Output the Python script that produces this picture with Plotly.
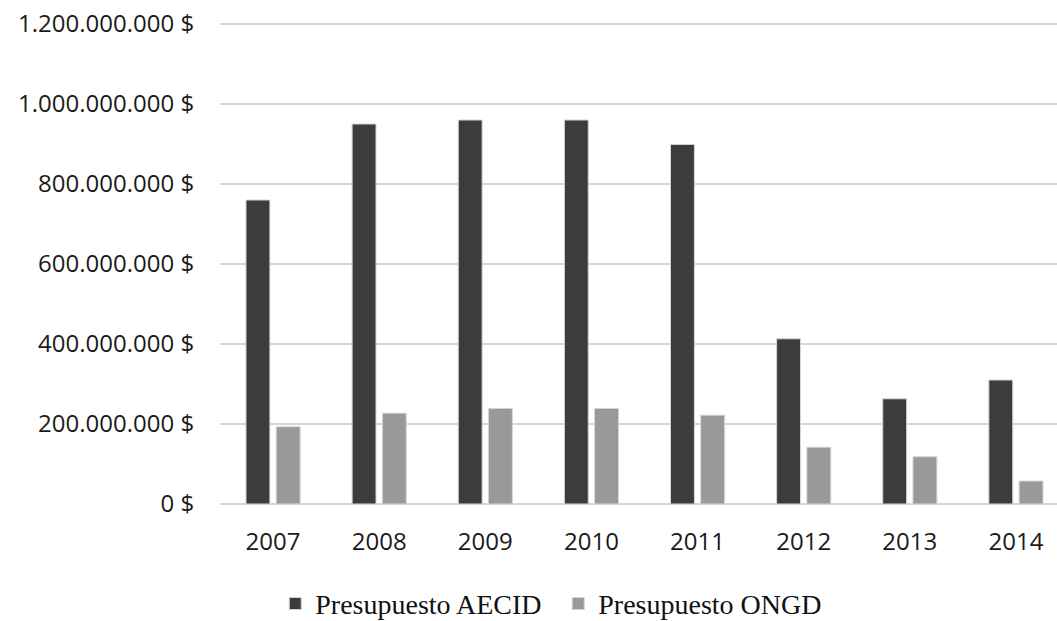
import plotly.graph_objects as go

years = ["2007", "2008", "2009", "2010", "2011", "2012", "2013", "2014"]
aecid = [760e6, 950e6, 960e6, 960e6, 899e6, 413e6, 263e6, 310e6]
ongd = [193e6, 227e6, 239e6, 239e6, 222e6, 142e6, 118e6, 57.5e6]
series_names = ["Presupuesto AECID", "Presupuesto ONGD"]
y_ticks = [0, 200e6, 400e6, 600e6, 800e6, 1000e6, 1200e6]
y_tick_labels = ["0 $", "200.000.000 $", "400.000.000 $", "600.000.000 $",
                 "800.000.000 $", "1.000.000.000 $", "1.200.000.000 $"]

fig = go.Figure()
fig.add_trace(go.Bar(x=years, y=aecid, name=series_names[0],
                     marker=dict(color="#3c3c3c", line=dict(color="#d4d4d4", width=1))))
fig.add_trace(go.Bar(x=years, y=ongd, name=series_names[1],
                     marker=dict(color="#999999", line=dict(color="#d4d4d4", width=1))))

fig.update_layout(
    width=1057, height=621,
    margin=dict(l=220, r=0, t=22, b=117, autoexpand=False),
    paper_bgcolor="white", plot_bgcolor="white",
    barmode="group", bargap=0.43, bargroupgap=0.21,
    font=dict(family="Open Sans, sans-serif", size=24, color="#1a1a1a"),
    legend=dict(orientation="h", x=0.066, xanchor="left", y=-0.2071, yanchor="middle",
                font=dict(family="Liberation Serif, Times New Roman, serif", size=28, color="#111111"),
                entrywidth=238, entrywidthmode="pixels", traceorder="normal"),
    showlegend=True,
)
fig.update_xaxes(type="category", range=[-0.5, 7.387], showgrid=False, showline=False,
                 ticks="outside", ticklen=16, tickcolor="rgba(0,0,0,0)", zeroline=False)
fig.update_yaxes(range=[0, 1.205e9], tickvals=y_ticks, ticktext=y_tick_labels,
                 showgrid=True, gridcolor="#d6d6d6", gridwidth=1.5,
                 zeroline=True, zerolinecolor="#d6d6d6", zerolinewidth=1.5,
                 ticks="outside", ticklen=20, tickcolor="rgba(0,0,0,0)", showline=False)

fig.write_html("out.html", config={"displayModeBar": False},
               post_script="document.body.style.margin='0';")
